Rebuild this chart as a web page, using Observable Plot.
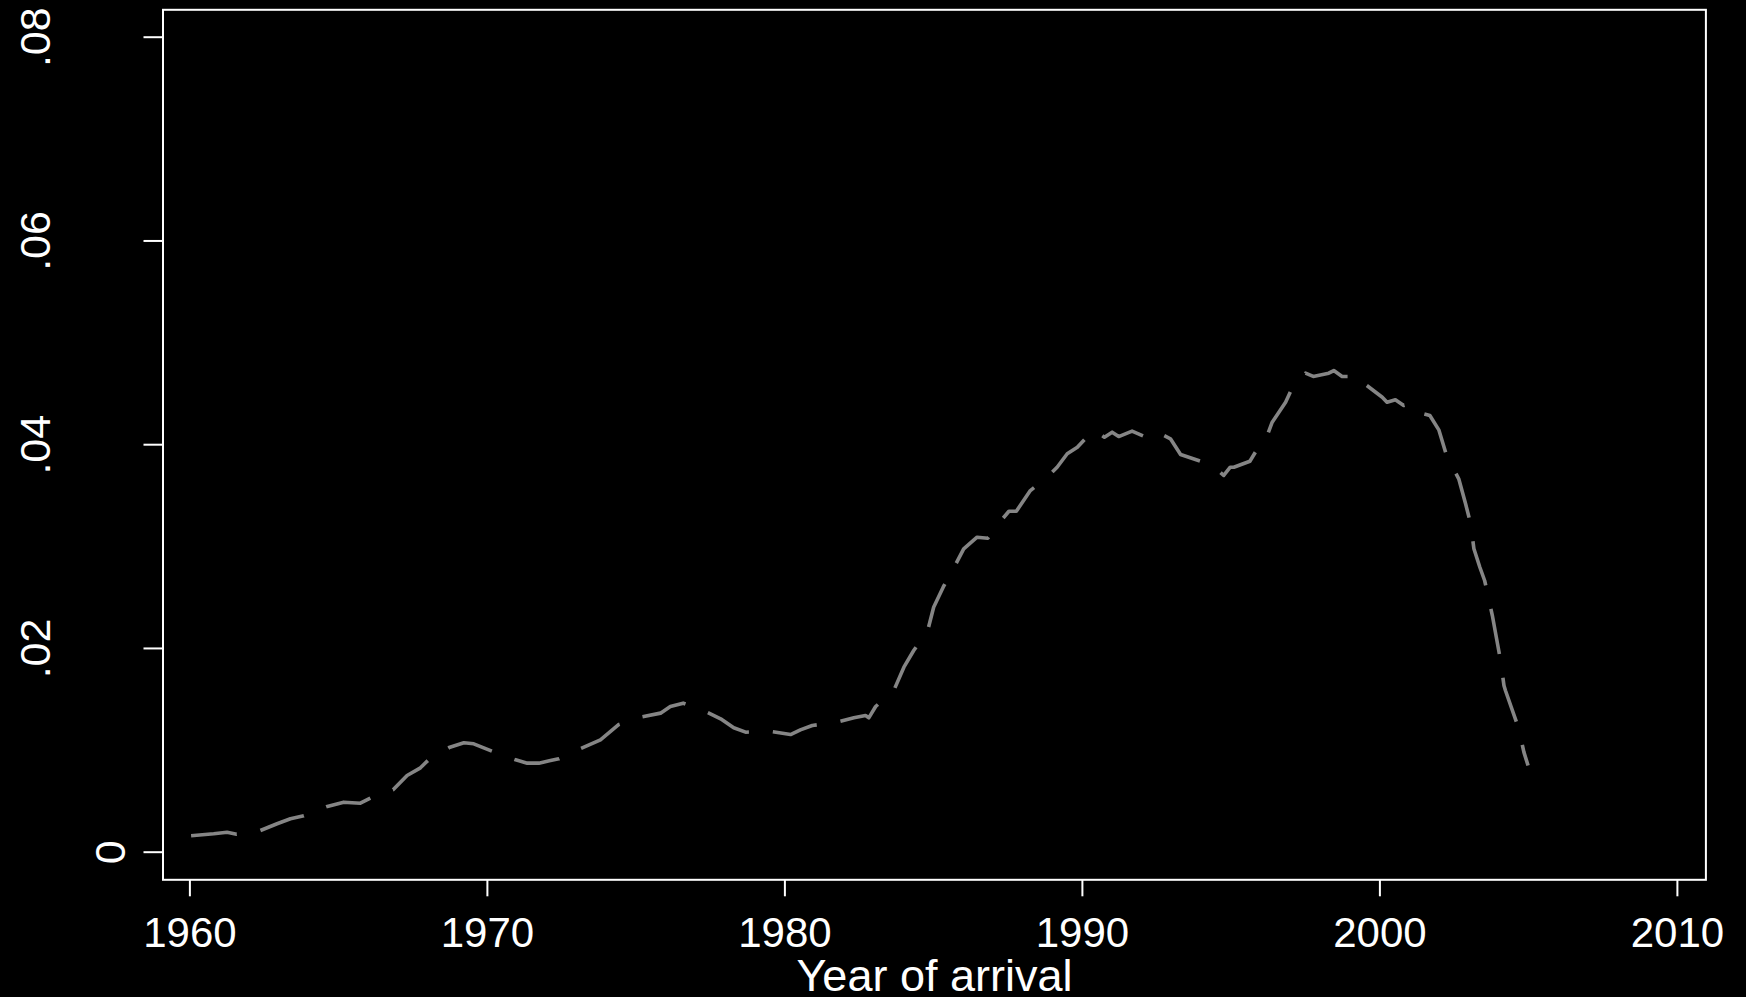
<!DOCTYPE html>
<html>
<head>
<meta charset="utf-8">
<script src="https://cdn.jsdelivr.net/npm/d3@7"></script>
<script src="https://cdn.jsdelivr.net/npm/@observablehq/plot@0.6"></script>
<style>
  html, body { margin: 0; padding: 0; background: #000; }
  #chart { width: 1746px; height: 997px; overflow: hidden; }
</style>
</head>
<body>
<div id="chart"></div>
<script>
// Density of arrivals by year
const years = [
  1960.04, 1960.8, 1961.25, 1961.57, 1962.37, 1962.93, 1963.38, 1963.83,
  1964.62, 1965.17, 1965.73, 1966.09, 1966.83, 1967.30, 1967.75, 1968.0,
  1968.74, 1969.21, 1969.54, 1970.16, 1970.92, 1971.34, 1971.73, 1972.12,
  1972.4, 1973.12, 1973.8, 1974.42, 1975.15, 1975.82, 1976.15, 1976.58,
  1977.33, 1977.84, 1978.28, 1978.68, 1979.46, 1980.19, 1980.52, 1980.92,
  1981.73, 1982.32, 1982.71, 1982.82, 1983.05, 1983.66, 1984.0, 1984.33,
  1984.8, 1985.0, 1985.32, 1985.7, 1986.01, 1986.46, 1986.82, 1987.22,
  1987.53, 1987.78, 1988.25, 1988.82, 1989.15, 1989.49, 1989.83, 1990.38,
  1990.74, 1991.0, 1991.22, 1991.67, 1992.18, 1992.51, 1992.96, 1993.3,
  1993.97, 1994.42, 1994.75, 1994.97, 1995.09, 1995.63, 1995.93, 1996.21,
  1996.38, 1996.83, 1997.05, 1997.5, 1997.76, 1998.28, 1998.45, 1998.73,
  1998.95, 1999.29, 1999.46, 2000.08, 2000.24, 2000.52, 2000.8, 2000.97,
  2001.16, 2001.68, 2001.98, 2002.26, 2002.65, 2002.88, 2003.05, 2003.16,
  2003.36, 2003.52, 2003.61, 2003.78, 2004.06, 2004.17, 2004.22, 2004.67,
  2004.84, 2004.98
];
const density = [
  0.00161, 0.00181, 0.00196, 0.00177, 0.00213, 0.00279, 0.00328, 0.00357,
  0.00449, 0.00491, 0.00481, 0.00534, 0.00612, 0.00753, 0.00828, 0.0090,
  0.01031, 0.01074, 0.01064, 0.00991, 0.0091, 0.00874, 0.00874, 0.0090,
  0.00917, 0.01015, 0.01103, 0.01254, 0.01325, 0.01365, 0.0143, 0.01463,
  0.01381, 0.01309, 0.01221, 0.01178, 0.01188, 0.01155, 0.01201, 0.01244,
  0.01276, 0.01319, 0.01342, 0.01319, 0.0143, 0.01587, 0.01816, 0.0198,
  0.02176, 0.02405, 0.02601, 0.02804, 0.02978, 0.03092, 0.03082, 0.03239,
  0.03347, 0.03347, 0.0355, 0.03681, 0.03779, 0.03911, 0.03975, 0.04146,
  0.04074, 0.04123, 0.0408, 0.04133, 0.04068, 0.04123, 0.04058, 0.03904,
  0.03838, 0.03786, 0.03698, 0.03779, 0.03779, 0.03838, 0.03982, 0.0409,
  0.04221, 0.04417, 0.04555, 0.04702, 0.0467, 0.04702, 0.04728, 0.0467,
  0.0467, 0.04581, 0.04604, 0.04466, 0.04417, 0.04441, 0.04385, 0.04401,
  0.04329, 0.04287, 0.04146, 0.03877, 0.03665, 0.0342, 0.03224, 0.02978,
  0.02797, 0.02667, 0.02552, 0.02323, 0.01875, 0.01636, 0.01587, 0.01211,
  0.00982, 0.00851
];

const xTicks = [1960, 1970, 1980, 1990, 2000, 2010];
const yTicks = [0, 0.02, 0.04, 0.06, 0.08];
const yTickLabels = ["0", ".02", ".04", ".06", ".08"];
const xTitle = "Year of arrival";

const rows = years.map((year, i) => ({year, value: density[i]}));
const yLabel = new Map(yTicks.map((t, i) => [t, yTickLabels[i]]));

const font = "'Liberation Sans', Arial, Helvetica, sans-serif";

const chart = Plot.plot({
  width: 1746,
  height: 997,
  marginLeft: 162.5,
  marginRight: 40.6,
  marginTop: 9.3,
  marginBottom: 117.7,
  style: {background: "#000", color: "#fff", fontFamily: font, overflow: "visible"},
  x: {domain: [1959.096, 2010.958]},
  y: {domain: [-0.00271, 0.08269]},
  marks: [
    Plot.frame({stroke: "#fff", strokeWidth: 2}),
    Plot.axisX(xTicks, {
      anchor: "bottom", tickSize: 17, tickPadding: 20.4, strokeWidth: 2,
      fontSize: 42, fill: "#fff", label: null, tickFormat: d => String(d)
    }),
    // tick marks on the left
    Plot.axisY(yTicks, {
      anchor: "left", tickSize: 19, strokeWidth: 2, text: null, label: null
    }),
    // rotated tick labels (the zero label sits closer to the frame)
    Plot.axisY(yTicks.filter(t => t !== 0), {
      anchor: "left", tickSize: 0, tickPadding: 0, label: null,
      fontSize: 43, fill: "#fff", rotate: -90, textAnchor: "middle", lineAnchor: "bottom",
      dx: -113, tickFormat: d => yLabel.get(d)
    }),
    Plot.axisY([0], {
      anchor: "left", tickSize: 0, tickPadding: 0, label: null,
      fontSize: 43, fill: "#fff", rotate: -90, textAnchor: "middle", lineAnchor: "bottom",
      dx: -38.5, tickFormat: d => yLabel.get(d)
    }),
    Plot.text([xTitle], {
      frameAnchor: "bottom", dy: 111, lineAnchor: "bottom",
      fontSize: 45, fill: "#fff", text: d => d
    }),
    Plot.line(rows, {
      x: "year", y: "value", stroke: "#858585", strokeWidth: 3.6,
      strokeDasharray: "46,24", strokeLinecap: "butt", strokeLinejoin: "round"
    })
  ]
});

document.getElementById("chart").append(chart);
</script>
</body>
</html>
